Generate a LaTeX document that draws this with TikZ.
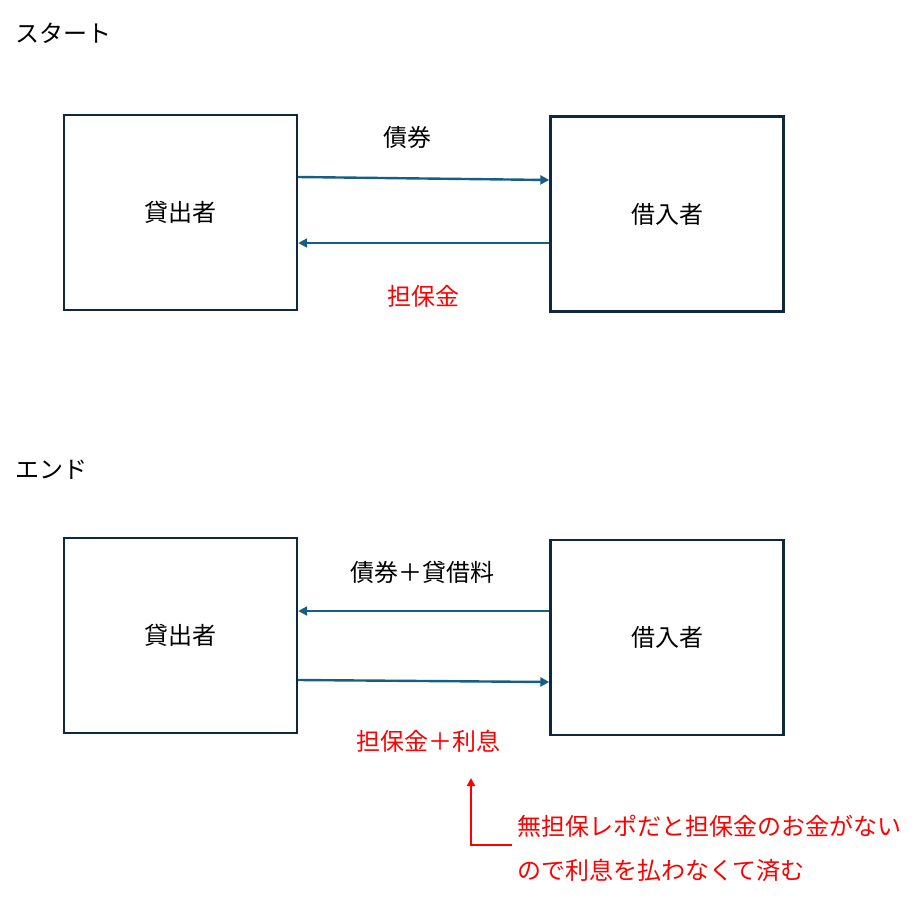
\documentclass[tikz,border=0pt]{standalone}
\usepackage{fontspec}
\setmainfont{Noto Sans CJK JP}
\definecolor{boxnavy}{RGB}{14, 40, 65}
\definecolor{flowblue}{RGB}{22, 94, 131}
\definecolor{notered}{RGB}{255, 0, 0}
\usetikzlibrary{positioning, arrows.meta}

\begin{document}
\begin{tikzpicture}[x=1pt, y=-1pt,
    party/.style={draw=boxnavy, line width=2.4pt, minimum width=233pt, minimum height=195pt, font=\fontsize{24}{28}\selectfont},
    flow/.style={draw=flowblue, line width=2.4pt, -{Triangle[length=9pt, width=9pt]}},
    lbl/.style={font=\fontsize{24}{28}\selectfont},
    redlbl/.style={lbl, text=notered}]
  \useasboundingbox (0, 0) rectangle (919, 919);

  % Start
  \node[lbl, anchor=west, inner sep=0pt] (start) at (15, 33) {スタート};
  \node[party] (lendA) at (180.5, 212.5) {貸出者};
  \node[party] (borrA) at (667, 214) {借入者};
  \draw[flow] ([yshift=35.5pt]lendA.east) -- ([yshift=34pt]borrA.west);
  \draw[flow] ([yshift=-29pt]borrA.west) -- ([yshift=-30.5pt]lendA.east);
  \node[lbl] (bondA) at (407, 137) {債券};
  \node[redlbl] (cashA) at (423, 296) {担保金};

  % End
  \node[lbl, anchor=west, inner sep=0pt] (finish) at (15, 470) {エンド};
  \node[party] (lendB) at (180.5, 635.5) {貸出者};
  \node[party] (borrB) at (667, 637.5) {借入者};
  \draw[flow] ([yshift=26.5pt]borrB.west) -- ([yshift=24.5pt]lendB.east);
  \draw[flow] ([yshift=-44.5pt]lendB.east) -- ([yshift=-44.5pt]borrB.west);
  \node[lbl] (bondB) at (422, 572) {債券＋貸借料};
  \node[redlbl] (cashB) at (428, 741) {担保金＋利息};

  % Note
  \node[redlbl, anchor=west, align=left, inner sep=0pt, font=\fontsize{24}{44}\selectfont] (note) at (517, 848) {無担保レポだと担保金のお金がない\\ので利息を払わなくて済む};
  \coordinate (notetip) at (471, 778);
  \draw[draw=notered, line width=2.6pt, -{Triangle[length=8pt, width=8pt]}] ([xshift=-5pt, yshift=3pt]note.west) -| (notetip);
\end{tikzpicture}
\end{document}
